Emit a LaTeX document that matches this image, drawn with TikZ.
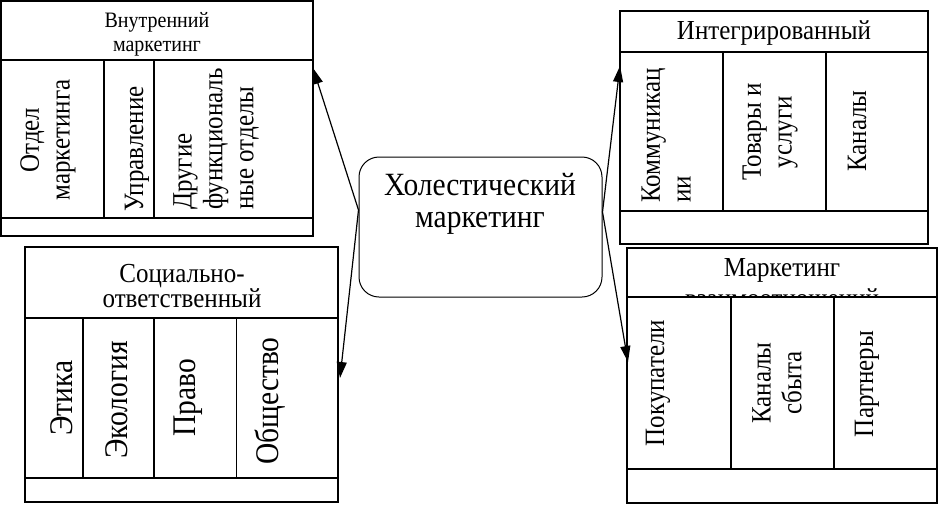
\documentclass[tikz,border=0pt]{standalone}
\usepackage{fontspec}
\setmainfont{Liberation Serif}
\usetikzlibrary{arrows.meta}
\tikzset{
  frame/.style={line width=1.6pt},
  rule/.style={line width=1.3pt},
  hairline/.style={line width=0.8pt},
  head/.style={align=center, inner sep=0pt, yscale=1.1, font=\fontsize{25}{23.5}\selectfont},
  vtext/.style={rotate=90, yscale=1.12, align=center, inner sep=0pt, font=\fontsize{25}{27.5}\selectfont},
  link/.style={line width=1.2pt, -{Triangle[length=16pt,width=10pt]}}
}
\begin{document}
\begin{tikzpicture}[x=1pt,y=-1pt]
\useasboundingbox (0,0) rectangle (938,504);

% internal marketing
\draw[frame] (1,1) rectangle (313,236);
\draw[frame] (1,60) -- (313,60);
\draw[rule] (1,218) -- (313,218);
\draw[rule] (104,60) -- (104,218);
\draw[rule] (154,60) -- (154,218);
\node[head, font=\fontsize{20}{21.5}\selectfont] (inthead) at (157,34) {Внутренний\\маркетинг};
\node[vtext] (intdep) at (48,140) {Отдел\\маркетинга};
\node[vtext] (intman) at (137,149) {Управление};
\node[vtext, align=left, anchor=west] (intoth) at (216,210) {Другие\\функциональ\\ные отделы};

% integrated
\draw[frame] (620,11) rectangle (928,244);
\draw[frame] (620,52) -- (928,52);
\draw[rule] (620,211) -- (928,211);
\draw[rule] (723,52) -- (723,211);
\draw[rule] (826,52) -- (826,211);
\node[head] (inghead) at (774,33) {Интегрированный};
\node[vtext, align=left, anchor=west] (ingcom) at (666,203) {Коммуникац\\ии};
\node[vtext] (inggood) at (770,132) {Товары и\\услуги};
\node[vtext] (ingchan) at (857,131) {Каналы};

% relationship marketing
\draw[frame] (627,248) rectangle (937,503);
\draw[frame] (627,297) -- (937,297);
\draw[rule] (627,469) -- (937,469);
\draw[rule] (731,297) -- (731,469);
\draw[rule] (834,297) -- (834,469);
\node[head] (relhead) at (782,270) {Маркетинг};
\begin{scope}
\clip (628,249) rectangle (936,296);
\node[head] (relcut) at (782,298) {взаимоотношений};
\end{scope}
\node[vtext] (relbuy) at (658,383) {Покупатели};
\node[vtext] (relsale) at (777,383) {Каналы\\сбыта};
\node[vtext] (relpart) at (867,384) {Партнеры};

% socially responsible
\draw[frame] (25,247) rectangle (338,502);
\draw[frame] (25,318) -- (338,318);
\draw[rule] (25,478) -- (338,478);
\draw[rule] (83,318) -- (83,478);
\draw[rule] (154,318) -- (154,478);
\draw[hairline] (236,318) -- (236,478);
\node[head] (sochead) at (182,286) {Социально-\\ответственный};
\node[vtext, font=\fontsize{29.5}{32}\selectfont] (soceth) at (62,398) {Этика};
\node[vtext, font=\fontsize{29.5}{32}\selectfont] (soceco) at (117,400) {Экология};
\node[vtext, font=\fontsize{29.5}{32}\selectfont] (soclaw) at (188,398) {Право};
\node[vtext, font=\fontsize{29.5}{32}\selectfont] (socsoc) at (270,401) {Общество};

% holistic marketing
\node[draw, line width=1pt, rounded corners=20pt, minimum width=243pt, minimum height=140pt] (holist) at (480.5,227) {};
\node[head, font=\fontsize{29.5}{28.5}\selectfont] (holtext) at (480,204) {Холестический\\маркетинг};

\coordinate (holL) at ([yshift=17pt]holist.west);
\coordinate (holR) at ([yshift=15pt]holist.east);
\coordinate (intEnd) at (313,68);
\coordinate (socEnd) at (340,378);
\coordinate (ingEnd) at (620,66);
\coordinate (relEnd) at (628,362);

\draw[link] (holL) -- (intEnd);
\draw[link] (holL) -- (socEnd);
\draw[link] (holR) -- (ingEnd);
\draw[link] (holR) -- (relEnd);
\end{tikzpicture}
\end{document}
